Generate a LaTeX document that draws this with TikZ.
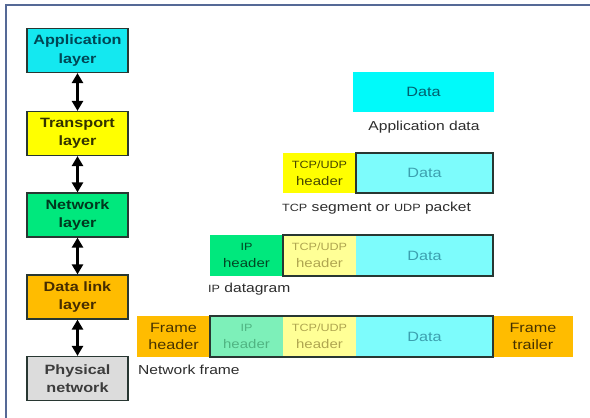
\documentclass[tikz,border=0pt]{standalone}
\usepackage{fontspec}
\setmainfont{Liberation Sans}[FakeStretch=1.2]
\usetikzlibrary{arrows.meta}

% fills
\definecolor{appfill}{RGB}{20,232,240}
\definecolor{trafill}{RGB}{255,255,0}
\definecolor{netfill}{RGB}{0,232,125}
\definecolor{dlfill}{RGB}{255,188,0}
\definecolor{phyfill}{RGB}{220,220,220}
\definecolor{datafill}{RGB}{0,250,250}
\definecolor{datapale}{RGB}{125,252,252}
\definecolor{yelpale}{RGB}{255,255,150}
\definecolor{grnpale}{RGB}{125,240,185}
% texts and lines
\definecolor{apptxt}{RGB}{0,70,85}
\definecolor{tratxt}{RGB}{50,50,0}
\definecolor{nettxt}{RGB}{0,55,30}
\definecolor{dltxt}{RGB}{70,45,0}
\definecolor{phytxt}{RGB}{60,60,60}
\definecolor{datatxt}{RGB}{0,95,110}
\definecolor{datapaletxt}{RGB}{60,160,175}
\definecolor{yeltxt}{RGB}{70,70,0}
\definecolor{yelpaletxt}{RGB}{175,165,80}
\definecolor{grntxt}{RGB}{0,70,35}
\definecolor{grnpaletxt}{RGB}{80,180,130}
\definecolor{frametxt}{RGB}{70,50,0}
\definecolor{capttxt}{RGB}{45,45,45}
\definecolor{edge}{RGB}{40,55,50}
\definecolor{framec}{RGB}{85,105,150}

% acronyms are set a size smaller
\newcommand\acr[1]{{\fontsize{10.5}{18}\selectfont #1}}

\begin{document}
\begin{tikzpicture}[x=1pt,y=-1pt,
  layer/.style={draw=edge, line width=1.2pt, minimum width=101pt, minimum height=44pt,
    inner sep=0pt, align=center, font=\fontsize{13.5}{18.5}\selectfont\bfseries},
  dblarrow/.style={line width=2.4pt, black,
    arrows={Triangle[width=11pt,length=10pt]-Triangle[width=11pt,length=10pt]}},
  cell/.style={minimum height=41pt, inner sep=0pt, outer sep=0pt, align=center,
    font=\fontsize{12.5}{17}\selectfont},
  hdr/.style={cell, minimum width=73pt},
  datacell/.style={cell, minimum width=137pt, font=\fontsize{13.5}{17}\selectfont},
  outline/.style={draw=edge, line width=1.2pt},
  caption/.style={inner sep=0pt, text=capttxt, font=\fontsize{13}{16}\selectfont}]

\useasboundingbox (0,0) rectangle (590,418);
\fill[white] (0,0) rectangle (590,418);
\draw[framec, line width=2.5pt] (6,418) -- (6,5) -- (590,5);

% protocol layers
\node[layer, fill=appfill, text=apptxt] (app) at (77.5,50.5) {Application\\layer};
\node[layer, fill=trafill, text=tratxt] (tra) at (77.5,133.5) {Transport\\layer};
\node[layer, fill=netfill, text=nettxt] (net) at (77.5,215) {Network\\layer};
\node[layer, fill=dlfill, text=dltxt] (dl) at (77.5,297) {Data link\\layer};
\node[layer, fill=phyfill, text=phytxt] (phy) at (77.5,378.5) {Physical\\network};

\draw[dblarrow] (app.south) -- (tra.north);
\draw[dblarrow] (tra.south) -- (net.north);
\draw[dblarrow] (net.south) -- (dl.north);
\draw[dblarrow] (dl.south) -- (phy.north);

% application data
\node[datacell, minimum width=141pt, minimum height=40pt, fill=datafill, text=datatxt] (d1) at (423.5,92) {Data};
\node[caption] (c1) at (424,127) {Application data};

% transport segment
\node[hdr, minimum height=40pt, fill=trafill, text=yeltxt] (t2) at (319.5,173) {\acr{TCP/UDP}\\header};
\node[datacell, minimum height=40pt, fill=datapale, text=datapaletxt] (d2) at (424.5,173) {Data};
\draw[outline] (d2.north west) rectangle (d2.south east);
\node[caption, anchor=west] (c2) at (282,208) {\acr{TCP} segment or \acr{UDP} packet};

% network datagram
\node[hdr, fill=netfill, text=grntxt] (i3) at (246.5,255.5) {\acr{IP}\\header};
\node[hdr, fill=yelpale, text=yelpaletxt] (t3) at (319.5,255.5) {\acr{TCP/UDP}\\header};
\node[datacell, fill=datapale, text=datapaletxt] (d3) at (424.5,255.5) {Data};
\draw[outline] (t3.north west) rectangle (d3.south east);
\node[caption, anchor=west] (c3) at (208,289) {\acr{IP} datagram};

% data link frame
\node[hdr, fill=dlfill, text=frametxt, font=\fontsize{13.5}{17}\selectfont] (f4) at (173.5,336.5) {Frame\\header};
\node[hdr, fill=grnpale, text=grnpaletxt] (i4) at (246.5,336.5) {\acr{IP}\\header};
\node[hdr, fill=yelpale, text=yelpaletxt] (t4) at (319.5,336.5) {\acr{TCP/UDP}\\header};
\node[datacell, fill=datapale, text=datapaletxt] (d4) at (424.5,336.5) {Data};
\node[hdr, minimum width=80pt, fill=dlfill, text=frametxt, font=\fontsize{13.5}{17}\selectfont] (r4) at (533,336.5) {Frame\\trailer};
\draw[outline] (i4.north west) rectangle (d4.south east);
\node[caption, anchor=west] (c4) at (138,370) {Network frame};
\end{tikzpicture}
\end{document}
